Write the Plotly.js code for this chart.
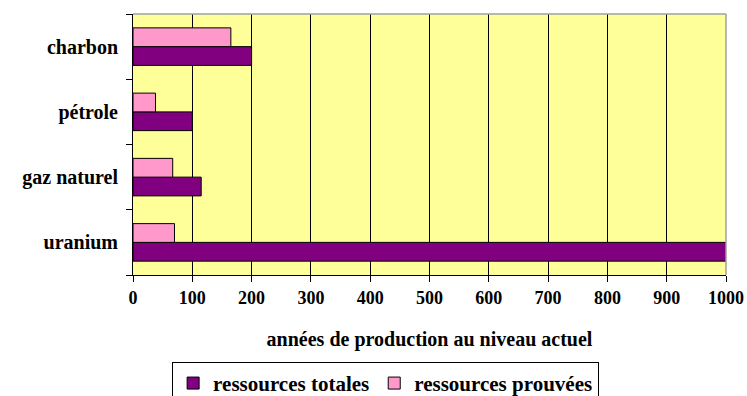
<!DOCTYPE html>
<html>
<head>
<meta charset="utf-8">
<script src="https://cdn.plot.ly/plotly-3.0.1.min.js"></script>
<style>
  html, body { margin: 0; padding: 0; background: #ffffff; overflow: hidden; }
  #chart { width: 747px; height: 425px; }
</style>
</head>
<body>
<div id="chart"></div>
<script>
// Energy resources, in years of production at the current rate
const categories = ['uranium', 'gaz naturel', 'pétrole', 'charbon'];
const totalResources = [1000, 115, 100, 200];
const provenResources = [70, 67, 38, 165];
const seriesNames = ['ressources totales', 'ressources prouvées'];
const xTicks = [0, 100, 200, 300, 400, 500, 600, 700, 800, 900, 1000];

const serif = '"Liberation Serif", "Times New Roman", serif';

const traces = [
  {
    type: 'bar', orientation: 'h', name: seriesNames[0],
    y: categories, x: totalResources,
    marker: { color: '#800080', line: { color: '#000000', width: 1 } },
    hoverinfo: 'x+y'
  },
  {
    type: 'bar', orientation: 'h', name: seriesNames[1],
    y: categories, x: provenResources,
    marker: { color: '#FF99CC', line: { color: '#000000', width: 1 } },
    hoverinfo: 'x+y'
  }
];

// The figure is a little taller than the window; the legend's lower edge runs past it
const layout = {
  width: 747, height: 425,
  margin: { l: 133, r: 21, t: 14, b: 150, pad: 0 },
  paper_bgcolor: '#ffffff',
  plot_bgcolor: '#FFFF99',
  barmode: 'group',
  bargap: 0.425,
  bargroupgap: 0,
  showlegend: true,
  legend: {
    orientation: 'h',
    x: 0.426, xanchor: 'center',
    y: -0.333, yanchor: 'top',
    bgcolor: '#ffffff',
    bordercolor: '#000000', borderwidth: 1,
    font: { family: serif, size: 21, color: '#000000', weight: 'bold' },
    traceorder: 'normal',
    itemwidth: 30
  },
  xaxis: {
    range: [0, 1000],
    tickmode: 'array', tickvals: xTicks, ticktext: xTicks.map(String),
    ticks: 'outside', ticklen: 6, tickcolor: '#000000', tickwidth: 1,
    showline: true, linecolor: '#000000', linewidth: 1,
    showgrid: true, gridcolor: '#000000', gridwidth: 1,
    zeroline: false,
    tickfont: { family: serif, size: 18, color: '#000000', weight: 'bold' },
    title: {
      text: 'années de production au niveau actuel',
      font: { family: serif, size: 20, color: '#000000', weight: 'bold' },
      standoff: 25
    },
    fixedrange: true
  },
  yaxis: {
    type: 'category',
    categoryorder: 'array', categoryarray: categories,
    tickson: 'boundaries',
    ticks: 'outside', ticklen: 6, tickcolor: '#000000', tickwidth: 1,
    ticklabelstandoff: 10,
    showline: true, linecolor: '#000000', linewidth: 1,
    showgrid: false, zeroline: false,
    tickfont: { family: serif, size: 20, color: '#000000', weight: 'bold' },
    fixedrange: true
  },
  shapes: [
    { type: 'line', xref: 'paper', yref: 'paper', x0: 0, x1: 1, y0: 1, y1: 1,
      line: { color: '#a0a0a0', width: 1.5 }, layer: 'above' },
    { type: 'line', xref: 'paper', yref: 'paper', x0: 1, x1: 1, y0: 0, y1: 1,
      line: { color: '#a0a0a0', width: 1.5 }, layer: 'above' }
  ]
};

Plotly.newPlot('chart', traces, layout, { displayModeBar: false, staticPlot: true });
</script>
</body>
</html>
